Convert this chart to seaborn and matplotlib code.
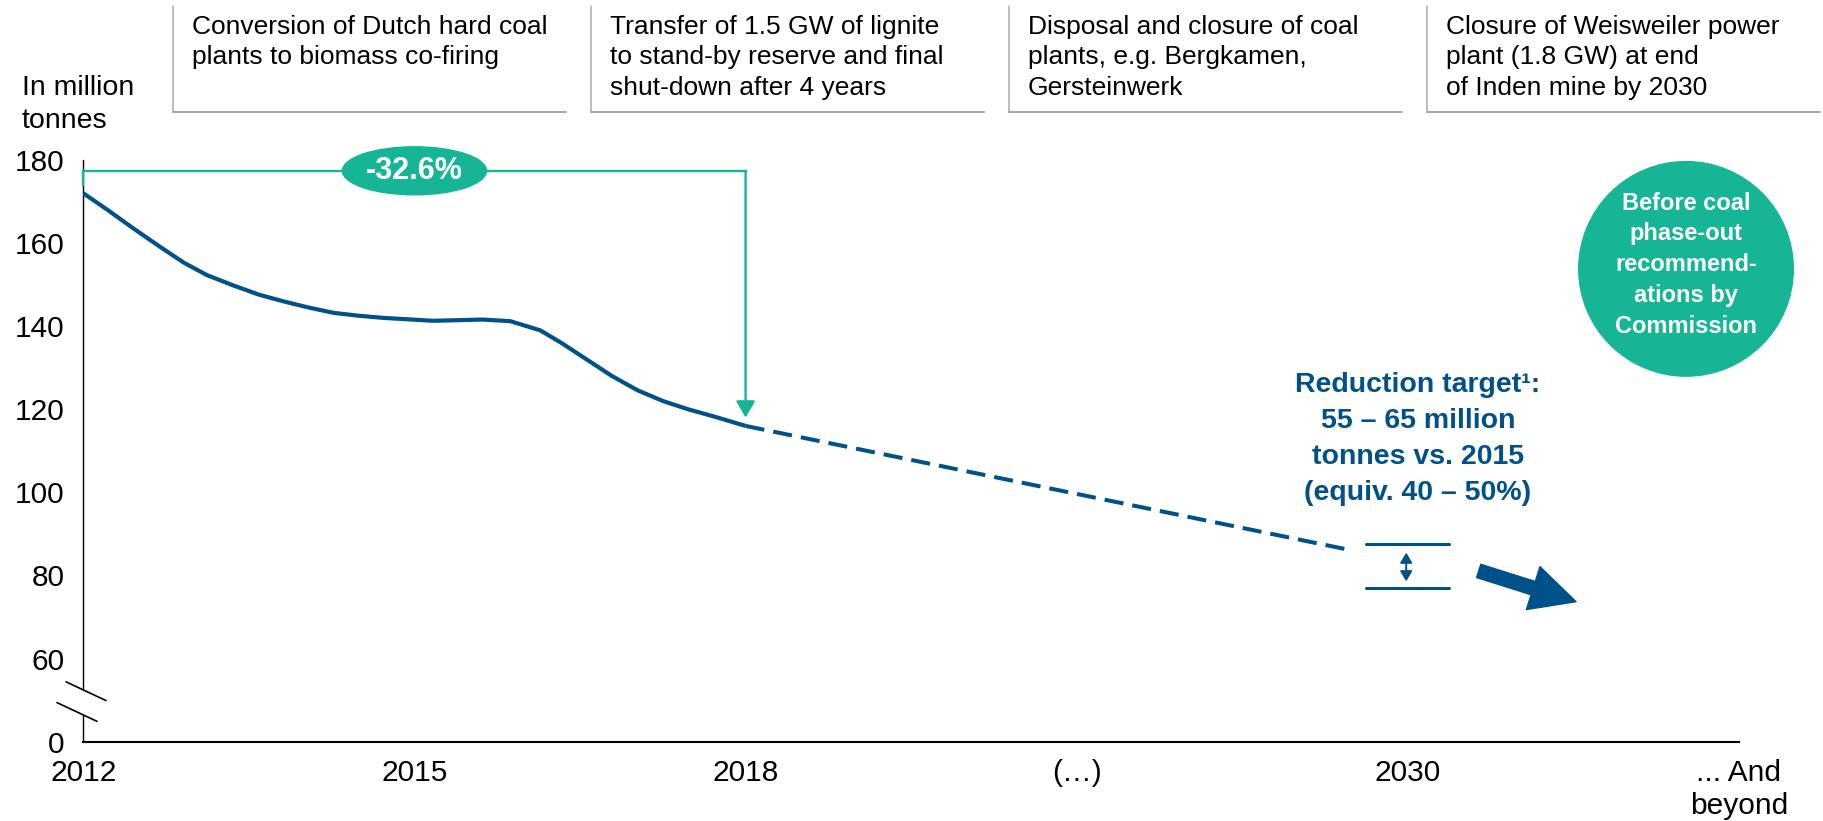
import matplotlib
matplotlib.use("Agg")
import matplotlib.pyplot as plt
import seaborn as sns
import pandas as pd
from matplotlib.patches import Ellipse, FancyArrowPatch
from matplotlib.lines import Line2D

# ---------------- data ----------------
hist_years = [2012.0, 2012.23, 2012.45, 2012.69, 2012.91, 2013.12, 2013.36, 2013.59,
              2013.81, 2014.04, 2014.27, 2014.5, 2014.72, 2015.17, 2015.62, 2015.87,
              2016.14, 2016.33, 2016.56, 2016.79, 2017.02, 2017.25, 2017.48, 2017.71,
              2018.0]
hist_values = [172.0, 167.8, 163.6, 159.2, 155.3, 152.3, 149.8, 147.6,
               146.0, 144.5, 143.2, 142.5, 142.0, 141.3, 141.6, 141.2,
               139.0, 136.0, 132.0, 128.0, 124.6, 122.0, 120.0, 118.3,
               116.0]
proj_years = [2018, 2029]
proj_values = [116.0, 86.0]
target_year = 2030
target_low = 77.0
target_high = 87.5
x_labels = ["2012", "2015", "2018", "(…)", "2030", "... And\nbeyond"]
y_ticks = [40, 60, 80, 100, 120, 140, 160, 180]
y_tick_labels = ["0", "60", "80", "100", "120", "140", "160", "180"]
bracket_level = 177.4
headers = [
    "Conversion of Dutch hard coal\nplants to biomass co-firing",
    "Transfer of 1.5 GW of lignite\nto stand-by reserve and final\nshut-down after 4 years",
    "Disposal and closure of coal\nplants, e.g. Bergkamen,\nGersteinwerk",
    "Closure of Weisweiler power\nplant (1.8 GW) at end\nof Inden mine by 2030",
]
target_text = "Reduction target¹:\n55 – 65 million\ntonnes vs. 2015\n(equiv. 40 – 50%)"
circle_text = "Before coal\nphase-out\nrecommend-\nations by\nCommission"
unit_text = "In million\ntonnes"

BLUE = "#00508A"
GREEN = "#16B596"
GRAY = "#A9A9A9"


def to_pos(year):
    # 2012, 2015, 2018 on a 3-year grid, then (…)=2024, 2030 on a 6-year grid
    return (year - 2012) / 3 if year <= 2018 else 2 + (year - 2018) / 6


sns.set_theme(style="white")
plt.rcParams["font.family"] = ["Liberation Sans", "DejaVu Sans"]

W, H = 1824, 821
fig = plt.figure(figsize=(W / 100, H / 100), dpi=100)
ax = fig.add_axes([83.3 / W, 1 - 741.7 / H, (1739 - 83.3) / W, (741.7 - 160) / H])

df_hist = pd.DataFrame({"pos": [to_pos(y) for y in hist_years], "value": hist_values})
df_proj = pd.DataFrame({"pos": [to_pos(y) for y in proj_years], "value": proj_values})

sns.lineplot(data=df_hist, x="pos", y="value", ax=ax, color=BLUE, linewidth=3,
             solid_joinstyle="round", solid_capstyle="butt", sort=False, zorder=4)
sns.lineplot(data=df_proj, x="pos", y="value", ax=ax, color=BLUE, linewidth=2.9,
             linestyle=(0, (4.75, 2.25)), sort=False, zorder=4)

ax.set_xlim(0, 5.0)
ax.set_ylim(40, 180)
ax.set_xlabel("")
ax.set_ylabel("")
ax.set_xticks(range(len(x_labels)))
ax.set_xticklabels(x_labels)
ax.set_yticks(y_ticks)
ax.set_yticklabels(y_tick_labels)
ax.tick_params(axis="x", length=0, pad=12.5, labelsize=21.5, colors="black")
ax.tick_params(axis="y", length=0, pad=13.5, labelsize=21.5, colors="black")
for lbl in ax.get_xticklabels():
    lbl.set_linespacing(1.24)
    lbl.set_verticalalignment("top")

for s in ["top", "right", "left"]:
    ax.spines[s].set_visible(False)
ax.spines["bottom"].set_color("black")
ax.spines["bottom"].set_linewidth(1.5)

# broken y axis
ax.plot([0, 0], [52.5, 180], color="black", lw=1.0, clip_on=False, zorder=3)
ax.plot([0, 0], [40, 46.4], color="black", lw=1.0, clip_on=False, zorder=3)
ax.plot([-0.052, 0.0686], [54.4, 49.9], color="black", lw=1.2, clip_on=False)
ax.plot([-0.0794, 0.0414], [49.4, 44.9], color="black", lw=1.2, clip_on=False)

# green bracket with change label
p0, p1 = to_pos(hist_years[0]), to_pos(hist_years[-1])
ax.plot([p0, p1], [bracket_level, bracket_level], color=GREEN, lw=1.7, clip_on=False, zorder=3)
ax.plot([p0, p0], [bracket_level, 174.0], color=GREEN, lw=1.7, clip_on=False, zorder=3)
ax.annotate("", xy=(p1, hist_values[-1] + 2.0), xytext=(p1, bracket_level),
            arrowprops=dict(arrowstyle="-|>,head_length=1.0,head_width=0.58",
                            mutation_scale=10, color=GREEN, lw=1.7,
                            shrinkA=0, shrinkB=0), zorder=3)
change = (hist_values[-1] / hist_values[0] - 1) * 100
mid = to_pos(2015)
ax.add_patch(Ellipse((mid, bracket_level), 0.435, 11.55, color=GREEN,
                     clip_on=False, zorder=5))
ax.text(mid, bracket_level, f"{change:.1f}%", ha="center", va="center",
        fontsize=22, fontweight="bold", color="white", zorder=6)

# target band
tp = to_pos(target_year)
ax.plot([tp - 0.125, tp + 0.125], [target_high, target_high], color=BLUE, lw=2.2)
ax.plot([tp - 0.125, tp + 0.125], [target_low, target_low], color=BLUE, lw=2.2)
ax.annotate("", xy=(tp - 0.005, target_low + 1.6), xytext=(tp - 0.005, target_high - 2.0),
            arrowprops=dict(arrowstyle="<|-|>,head_length=0.6,head_width=0.36",
                            mutation_scale=10, color=BLUE, lw=1.4,
                            shrinkA=0, shrinkB=0))
ax.text(4.03, 112.8, target_text, ha="center", va="center", fontsize=20.5,
        fontweight="bold", color=BLUE, linespacing=1.5)

# big trend arrow
ax.add_patch(FancyArrowPatch((4.214, 81.1), (4.508, 73.7),
                             arrowstyle="simple,head_length=3.24,head_width=3.24,tail_width=1.0",
                             mutation_scale=10, color=BLUE, shrinkA=0, shrinkB=0,
                             clip_on=False))

# commission circle
ax.scatter([4.84], [153.8], s=(216 * 0.72) ** 2, color=GREEN, edgecolors="none",
           clip_on=False, zorder=5)
ax.text(4.84, 154.8, circle_text, ha="center", va="center", fontsize=17,
        fontweight="bold", color="white", linespacing=1.43, zorder=6)

# unit label
fig.text(22 / W, 1 - 75 / H, unit_text, ha="left", va="top", fontsize=20.5,
         color="black", linespacing=1.34)

# header boxes
for i, txt in enumerate(headers):
    left = 173 + i * 418
    right = left + 392.6
    fig.add_artist(Line2D([left / W, left / W], [1 - 6 / H, 1 - 111.7 / H],
                          transform=fig.transFigure, color=GRAY, lw=1.1))
    fig.add_artist(Line2D([left / W, right / W], [1 - 111.7 / H, 1 - 111.7 / H],
                          transform=fig.transFigure, color=GRAY, lw=1.5))
    fig.text((left + 19) / W, 1 - 15 / H, txt, ha="left", va="top", fontsize=19,
             color="black", linespacing=1.34)

fig.savefig("out.png", dpi=100)
